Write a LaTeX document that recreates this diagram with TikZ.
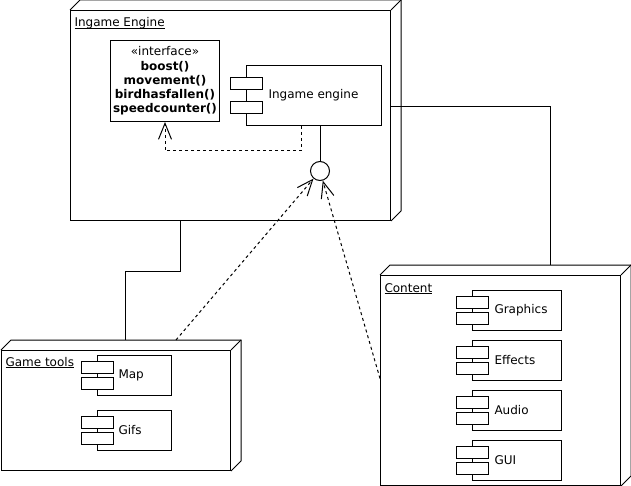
\documentclass[tikz,border=0pt]{standalone}
\usepackage{fontspec}
\setmainfont{DejaVu Sans}
\usetikzlibrary{arrows.meta,calc}
\newcommand\nodebox[5]{%
  \node[front, minimum width=#4pt, minimum height=#5pt] (#1) at (#2,#3) {};
  \draw (#1.north west) -- ++(10,-10) -- ([shift={(10,-10)}]#1.north east) -- ([shift={(10,-10)}]#1.south east) -- (#1.south east);
  \draw (#1.north east) -- ++(10,-10);
}
\newcommand\comp[7]{%
  \node[front, minimum width=#4pt, minimum height=#5pt] (#1) at (#2,#3) {};
  \node[lbl, anchor=west] (#1t) at ([xshift=#7pt]#1.west) {#6};
  \node[part] (#1a) at ($(#1.north west)!0.3!(#1.south west)+(-16,0)$) {};
  \node[part] (#1b) at ($(#1.north west)!0.7!(#1.south west)+(-16,0)$) {};
}
\newcommand\ulabel[1]{\underline{\smash{#1}}}
\begin{document}
\begin{tikzpicture}[x=1pt,y=-1pt, line width=1pt,
  font=\fontsize{12}{14.3}\selectfont,
  front/.style={draw, inner sep=0, anchor=north west},
  part/.style={draw, fill=white, inner sep=0, anchor=west, minimum width=32pt, minimum height=12pt},
  dep/.style={draw, dash pattern=on 3pt off 3pt, -{Straight Barb[length=16pt,width=13pt]}},
  lbl/.style={inner sep=0, anchor=base west},
]
\fill[white] (0,0) rectangle (631,486);
\useasboundingbox (0,0) rectangle (631,486);

% deployment nodes
\nodebox{ie}{70}{10}{320}{210}
\nodebox{gt}{1}{350}{229}{120}
\nodebox{ct}{380}{275}{240}{210}

\node[lbl] (ielbl) at (74,27) {\ulabel{Ingame Engine}};
\node[lbl] (gtlbl) at (5,366) {\ulabel{Game tools}};
\node[lbl] (ctlbl) at (384,292) {\ulabel{Content}};

% interface
\node[front, minimum width=109pt, minimum height=81pt, align=center] (iface) at (110,40)
  {«interface»\\\textbf{boost()}\\\textbf{movement()}\\\textbf{birdhasfallen()}\\\textbf{speedcounter()}};

% components
\comp{ige}{246}{65}{135}{60}{Ingame engine}{22}
\comp{map}{97}{355}{74}{40}{Map}{21}
\comp{gifs}{97}{410}{74}{40}{Gifs}{21}
\comp{gfx}{472}{290}{89}{40}{Graphics}{22}
\comp{fx}{472}{340}{89}{40}{Effects}{22}
\comp{aud}{472}{390}{89}{40}{Audio}{22}
\comp{gui}{472}{440}{89}{40}{GUI}{22}

% lollipop
\node[draw, circle, minimum size=19pt, inner sep=0] (lol) at (320,171) {};
\draw (ige.south -| lol.north) -- (lol.north);

% dependencies
\draw[dep] ([xshift=55pt]ige.south west) -- ++(0,25) -| (iface.south);
\coordinate (gtd) at ([xshift=175pt,yshift=10pt]gt.north west);
\draw[dep] (gtd) -- (lol);
\draw[dep] ([yshift=2pt]ct.west) -- (lol);

% node links
\draw ([xshift=110pt]ie.south west) -- ++(0,50) -| ([xshift=124pt,yshift=10pt]gt.north west);
\draw ([yshift=9pt]ie.east) -| ([xshift=170pt,yshift=10pt]ct.north west);
\end{tikzpicture}
\end{document}
